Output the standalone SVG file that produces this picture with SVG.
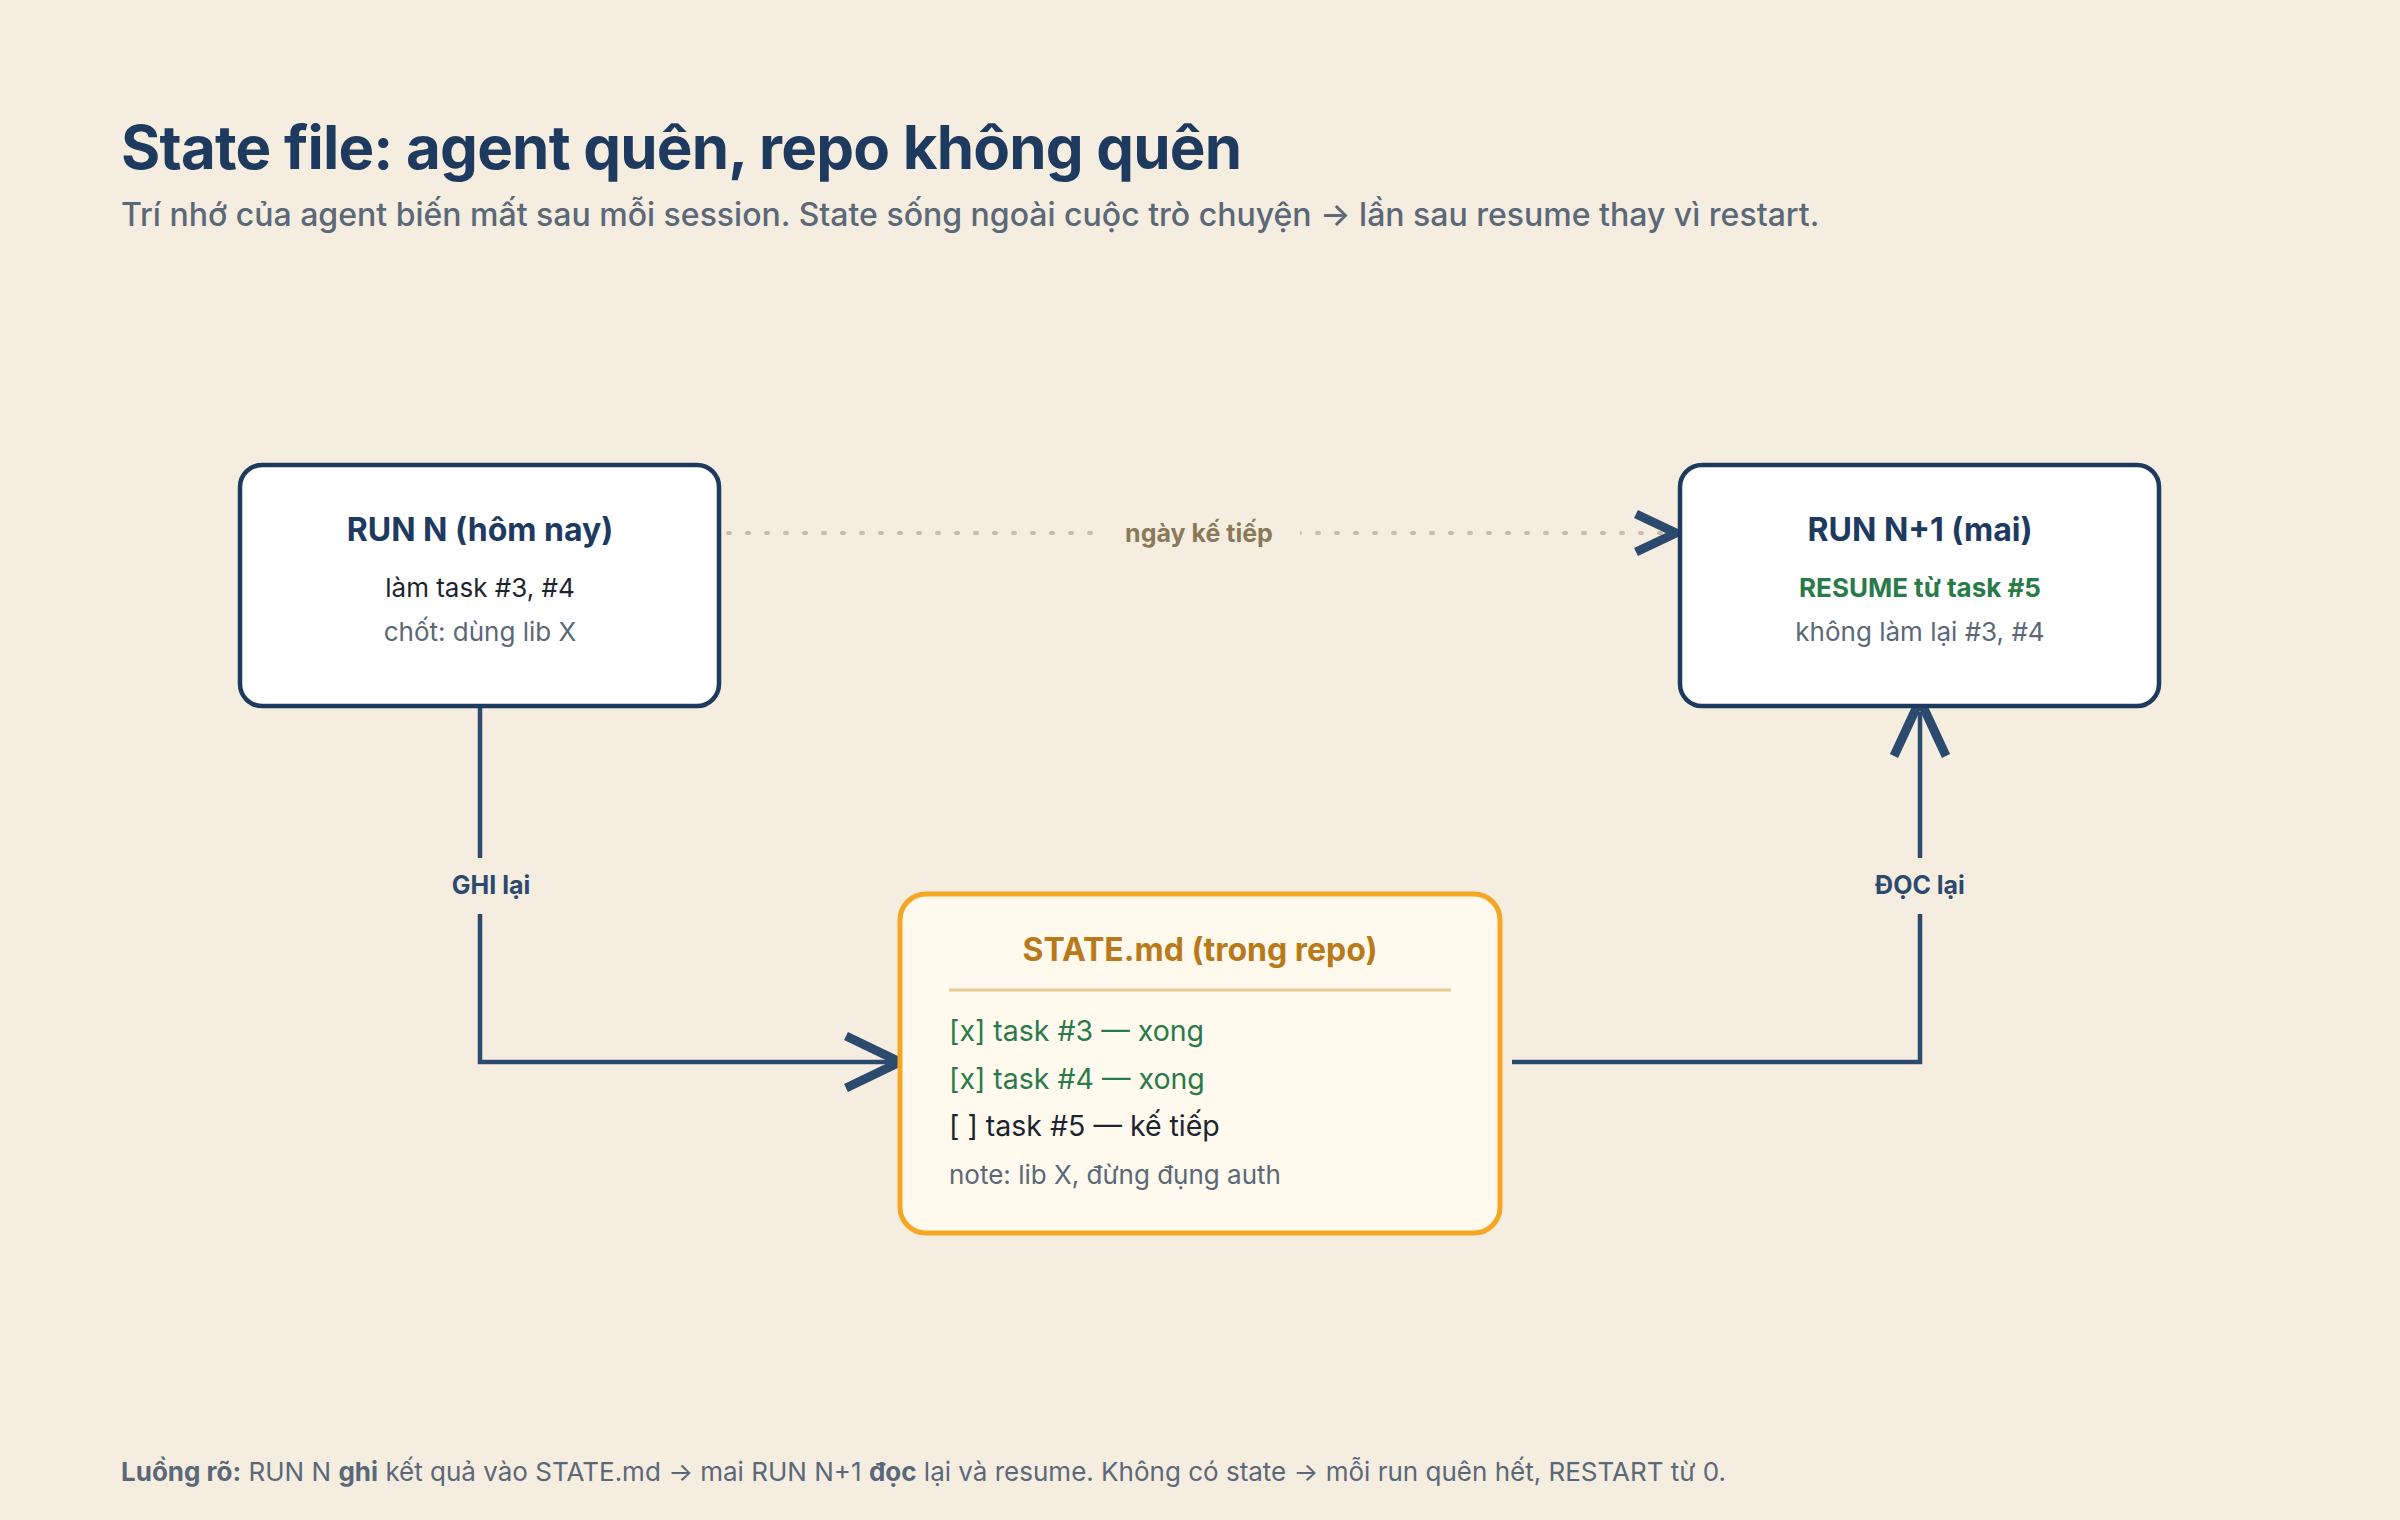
<svg xmlns="http://www.w3.org/2000/svg" width="2400" height="1520" viewBox="0 0 2400 1520">
<defs>
<style>
text{font-family:Inter,"Noto Sans",sans-serif}
.t{font-size:60px;font-weight:700;fill:#1e3a5f;letter-spacing:-0.8px}
.sub{font-size:32px;font-weight:500;fill:#5b6878}
.nt{font-size:32px;font-weight:700;fill:#1e3a5f;text-anchor:middle}
.nl{font-size:26px;fill:#1c2430;text-anchor:middle}
.ng{font-size:26px;fill:#5b6878;text-anchor:middle}
.box{fill:#fff;stroke:#1e3a5f;stroke-width:4.5}
.conn{fill:none;stroke:#2c4a6e;stroke-width:4.5}
.head{fill:none;stroke:#2c4a6e;stroke-width:9;stroke-linecap:butt;stroke-linejoin:miter}
.el{font-size:25px;font-weight:700;fill:#2c4a6e;text-anchor:middle}
.sl{font-size:28.5px}
</style>
</defs>
<rect width="2400" height="1520" fill="#f5ede0"/>
<text class="t" x="121" y="169">State file: agent quên, repo không quên</text>
<text class="sub" x="121" y="226">Trí nhớ của agent biến mất sau mỗi session. State sống ngoài cuộc trò chuyện → lần sau resume thay vì restart.</text>
<g id="connectors">
<line x1="728" y1="533" x2="1676" y2="533" stroke="#c8bca8" stroke-width="4" stroke-dasharray="2 17" stroke-linecap="round"/>
<rect x="1100" y="512" width="200" height="40" fill="#f5ede0"/>
<text x="1199" y="542" font-size="25" font-weight="700" fill="#8a7a5a" text-anchor="middle">ngày kế tiếp</text>
<polyline class="head" points="1636,514 1676,533 1636,552"/>
<polyline class="conn" points="480,708 480,1062 900,1062"/>
<rect x="440" y="858" width="80" height="56" fill="#f5ede0"/>
<text class="el" x="491" y="894">GHI lại</text>
<polyline class="head" points="846,1036 900,1062 846,1088"/>
<polyline class="conn" points="1512,1062 1920,1062 1920,712"/>
<rect x="1870" y="858" width="100" height="56" fill="#f5ede0"/>
<text class="el" x="1920" y="894">ĐỌC lại</text>
<polyline class="head" points="1894,756 1920,700 1946,756"/>
</g>
<g id="run-n">
<rect class="box" x="240" y="465" width="479" height="241" rx="22"/>
<text class="nt" x="480" y="541">RUN N (hôm nay)</text>
<text class="nl" x="480" y="597">làm task #3, #4</text>
<text class="ng" x="480" y="641">chốt: dùng lib X</text>
</g>
<g id="run-n1">
<rect class="box" x="1680" y="465" width="479" height="241" rx="22"/>
<text class="nt" x="1920" y="541">RUN N+1 (mai)</text>
<text x="1920" y="597" font-size="26" font-weight="700" fill="#2a7a4a" text-anchor="middle">RESUME từ task #5</text>
<text class="ng" x="1920" y="641">không làm lại #3, #4</text>
</g>
<g id="state">
<rect x="900" y="894" width="600" height="339" rx="26" fill="#fff9ee" stroke="#f5a623" stroke-width="5"/>
<text x="1200" y="961" font-size="32" font-weight="700" fill="#b87a1a" text-anchor="middle">STATE.md (trong repo)</text>
<line x1="949" y1="990" x2="1451" y2="990" stroke="#e8c98f" stroke-width="3"/>
<text class="sl" x="949" y="1041" fill="#2a7a4a">[x] task #3 — xong</text>
<text class="sl" x="949" y="1089" fill="#2a7a4a">[x] task #4 — xong</text>
<text class="sl" x="949" y="1136" fill="#1c2430">[ ] task #5 — kế tiếp</text>
<text x="949" y="1184" font-size="26" fill="#5b6878">note: lib X, đừng đụng auth</text>
</g>
<text x="121" y="1481" font-size="26" fill="#5b6878"><tspan font-weight="700">Luồng rõ:</tspan> RUN N <tspan font-weight="700">ghi</tspan> kết quả vào STATE.md → mai RUN N+1 <tspan font-weight="700">đọc</tspan> lại và resume. Không có state → mỗi run quên hết, RESTART từ 0.</text>
</svg>
